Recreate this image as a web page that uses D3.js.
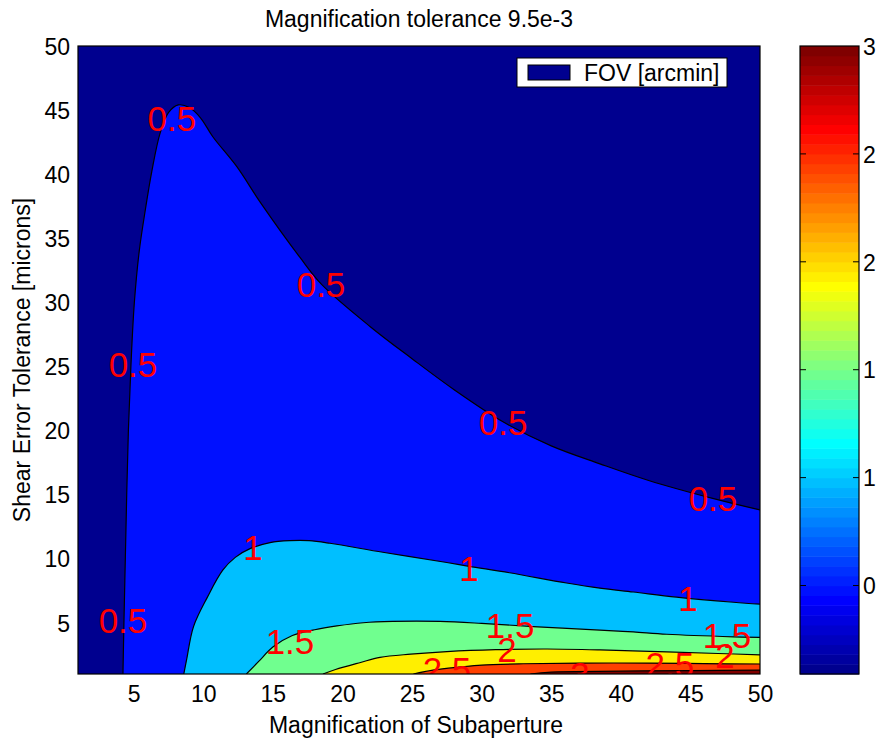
<!DOCTYPE html>
<html><head><meta charset="utf-8">
<script src="https://cdn.jsdelivr.net/npm/d3@7"></script>
<style>
body{margin:0;background:#fff}
text{font-family:"Liberation Sans",Arial,Helvetica,sans-serif;fill:#000}
</style>
</head><body>
<svg id="chart" width="880" height="740"></svg>
<script>
// ---------------- data ----------------
const titleText = "Magnification tolerance 9.5e-3";
const xLabelText = "Magnification of Subaperture";
const yLabelText = "Shear Error Tolerance [microns]";
const legendText = "FOV [arcmin]";

const xDomain = [1, 50];
const yDomain = [1, 50];
const xTicks = [5, 10, 15, 20, 25, 30, 35, 40, 45, 50];
const yTicks = [5, 10, 15, 20, 25, 30, 35, 40, 45, 50];

const levels = [0.5, 1, 1.5, 2, 2.5, 3];

// contour lines (magnification, shear tolerance)
const contour05 = [[4.23,1],[4.3,5],[4.4,10],[4.5,15],[4.62,20],[4.8,25],[5.05,30],[5.4,34],[5.85,37.3],[6.3,40.2],[6.9,43.2],[7.5,44.8],[8.2,45.4],[9.0,45.2],[9.8,44.4],[10.7,42.9],[12.4,40.6],[14.1,37.8],[16.95,33.5],[18.5,31.4],[22,28.1],[25,25.6],[28,23.2],[31.5,20.7],[35,18.8],[38.5,17.4],[42,16.1],[46.6,14.7],[50,13.8]];
const contour10 = [[8.6,1],[8.8,2.1],[9.3,4.7],[10.3,7.0],[11.4,9.1],[12.3,10.1],[13.4,10.8],[14.8,11.25],[16.2,11.4],[17.6,11.4],[19.1,11.2],[22.9,10.5],[27.5,9.7],[29.1,9.4],[32,8.9],[36.1,8.1],[38.5,7.7],[40.9,7.4],[44,7.0],[48.1,6.6],[50,6.45]];
const contour15 = [[13.1,1],[14.0,2.0],[15,3.1],[16.4,4.0],[18,4.45],[19.6,4.75],[21.5,5.0],[23.6,5.1],[27,5.1],[30,4.95],[33.7,4.7],[38.5,4.43],[40.9,4.28],[43.3,4.1],[48.1,3.9],[50,3.85]];
const contour20 = [[18.6,1],[19.5,1.35],[21.3,1.9],[22.7,2.3],[24.9,2.55],[27.5,2.75],[31,2.9],[34.7,2.95],[38.5,2.88],[43.3,2.72],[47,2.6],[50,2.5]];
const contour25 = [[25.1,1],[26.5,1.3],[28.5,1.55],[30,1.7],[33,1.8],[37,1.85],[42,1.85],[46,1.81],[50,1.78]];
const contour30 = [[33.5,1],[35,1.15],[40,1.22],[45,1.27],[50,1.3]];
const contourLines = [contour05, contour10, contour15, contour20, contour25, contour30];

// contour labels
const labelText = ["0.5","0.5","0.5","0.5","0.5","0.5","1","1","1","1.5","1.5","1.5","2","2","2.5","2.5","3"];
const labelX = [7.75,18.46,4.95,31.54,46.62,4.23,13.57,29.09,44.83,16.23,32.04,47.63,31.82,47.49,27.51,43.53,37.07];
const labelY = [44.38,31.43,25.19,20.66,14.73,5.21,10.91,9.27,6.93,3.57,4.82,4.04,2.95,2.48,1.39,1.78,1.0];

// colour axis
const cRange = [0.09, 3.0];
const cbTickValues = [0.5, 1, 1.5, 2, 2.5, 3];
const cbTickLabels = ["0", "1", "1", "2", "2", "3"];

// ---------------- styles ----------------
const bandColors = ["#00008F", "#0010FF", "#00BFFF", "#70FF8F", "#FFEF00", "#FF4000", "#800000"];
const FONT = 23;
const plot = {l: 78, r: 760, t: 46, b: 674};
const cb = {l: 800, r: 859, t: 46, b: 674};

function jet(i, m) { // i: 1..m
  const f = m / 64;
  const k = i / f;
  const r = k <= 24 ? 0 : k <= 40 ? (k - 24) / 16 : k <= 56 ? 1 : 1 - (k - 56) / 16;
  const g = k <= 8 ? 0 : k <= 24 ? (k - 8) / 16 : k <= 40 ? 1 : k <= 56 ? 1 - (k - 40) / 16 : 0;
  const b = k <= 8 ? 0.5 + k / 16 : k <= 24 ? 1 : k <= 40 ? 1 - (k - 24) / 16 : 0;
  return d3.rgb(r * 255, g * 255, b * 255).toString();
}

// ---------------- chart ----------------
const svg = d3.select("#chart");
const x = d3.scaleLinear().domain(xDomain).range([plot.l, plot.r]);
const y = d3.scaleLinear().domain(yDomain).range([plot.b, plot.t]);

svg.append("defs").append("clipPath").attr("id", "pclip")
  .append("rect").attr("x", plot.l).attr("y", plot.t)
  .attr("width", plot.r - plot.l).attr("height", plot.b - plot.t);

const g = svg.append("g").attr("clip-path", "url(#pclip)");

// base region (below lowest level)
g.append("rect").attr("x", plot.l).attr("y", plot.t)
  .attr("width", plot.r - plot.l).attr("height", plot.b - plot.t)
  .attr("fill", bandColors[0]);

const lineGen = d3.line().x(d => x(d[0])).y(d => y(d[1])).curve(d3.curveCatmullRom.alpha(0.5));

contourLines.forEach((pts, i) => {
  const p = lineGen(pts) + "L" + x(xDomain[1]) + "," + y(yDomain[0]) + "Z";
  g.append("path").attr("d", p).attr("fill", bandColors[i + 1]).attr("stroke", "none");
});
contourLines.forEach(pts => {
  g.append("path").attr("d", lineGen(pts)).attr("fill", "none")
    .attr("stroke", "#000").attr("stroke-width", 1.2);
});

// labels
labelText.forEach((t, i) => {
  g.append("text").attr("x", x(labelX[i])).attr("y", y(labelY[i]))
    .attr("dy", "0.36em").attr("text-anchor", "middle")
    .style("font-size", "35px").style("fill", "#FF0000").text(t);
});

// axes box
svg.append("rect").attr("x", plot.l).attr("y", plot.t)
  .attr("width", plot.r - plot.l).attr("height", plot.b - plot.t)
  .attr("fill", "none").attr("stroke", "#000").attr("stroke-width", 1.2);

// x axis
const xAxis = d3.axisBottom(x).tickValues(xTicks).tickSize(0).tickPadding(0);
const xa = svg.append("g").attr("transform", `translate(0,${plot.b})`).call(xAxis);
xa.select(".domain").remove();
xa.selectAll("text").attr("y", 28).attr("dy", 0).style("font-size", FONT + "px")
  .style("font-family", '"Liberation Sans",Arial,sans-serif').attr("fill", "#000");

// y axis
const yAxis = d3.axisLeft(y).tickValues(yTicks).tickSize(0).tickPadding(0);
const ya = svg.append("g").attr("transform", `translate(${plot.l},0)`).call(yAxis);
ya.select(".domain").remove();
ya.selectAll("text").attr("x", -8).attr("dy", "0.36em").style("font-size", FONT + "px")
  .style("font-family", '"Liberation Sans",Arial,sans-serif').attr("fill", "#000");

// titles
svg.append("text").attr("x", (plot.l + plot.r) / 2).attr("y", 27)
  .attr("text-anchor", "middle").style("font-size", FONT + "px").text(titleText);
svg.append("text").attr("x", 416).attr("y", 733)
  .attr("text-anchor", "middle").style("font-size", FONT + "px").text(xLabelText);
svg.append("text").attr("transform", `translate(30,${(plot.t + plot.b) / 2}) rotate(-90)`)
  .attr("text-anchor", "middle").style("font-size", FONT + "px").text(yLabelText);

// legend
const lg = svg.append("g");
lg.append("rect").attr("x", 517).attr("y", 58).attr("width", 210).attr("height", 29)
  .attr("fill", "#fff").attr("stroke", "#000").attr("stroke-width", 1);
lg.append("rect").attr("x", 528).attr("y", 65).attr("width", 42).attr("height", 15)
  .attr("fill", bandColors[0]).attr("stroke", "#000").attr("stroke-width", 1);
lg.append("text").attr("x", 584).attr("y", 81).style("font-size", FONT + "px").text(legendText);

// colorbar
const cy = d3.scaleLinear().domain(cRange).range([cb.b, cb.t]);
const nC = 64;
const bandH = (cb.b - cb.t) / nC;
const cbg = svg.append("g");
d3.range(1, nC + 1).forEach(i => {
  cbg.append("rect").attr("x", cb.l).attr("width", cb.r - cb.l)
    .attr("y", cb.b - i * bandH).attr("height", bandH + 0.5)
    .attr("fill", jet(i, nC));
});
cbg.append("rect").attr("x", cb.l).attr("y", cb.t).attr("width", cb.r - cb.l)
  .attr("height", cb.b - cb.t).attr("fill", "none").attr("stroke", "#000").attr("stroke-width", 1.2);
const cAxis = d3.axisRight(cy).tickValues(cbTickValues)
  .tickFormat((d, i) => cbTickLabels[i]).tickSize(0).tickPadding(0);
const ca = svg.append("g").attr("transform", `translate(${cb.r},0)`).call(cAxis);
ca.select(".domain").remove();
ca.selectAll("text").attr("x", 4).attr("dy", "0.36em").style("font-size", FONT + "px")
  .style("font-family", '"Liberation Sans",Arial,sans-serif').attr("fill", "#000");
cbTickValues.filter(v => v < cRange[1]).forEach(v => {
  cbg.append("line").attr("x1", cb.l).attr("x2", cb.l + 6).attr("y1", cy(v)).attr("y2", cy(v)).attr("stroke", "#000");
  cbg.append("line").attr("x1", cb.r - 6).attr("x2", cb.r).attr("y1", cy(v)).attr("y2", cy(v)).attr("stroke", "#000");
});
</script>
</body></html>
